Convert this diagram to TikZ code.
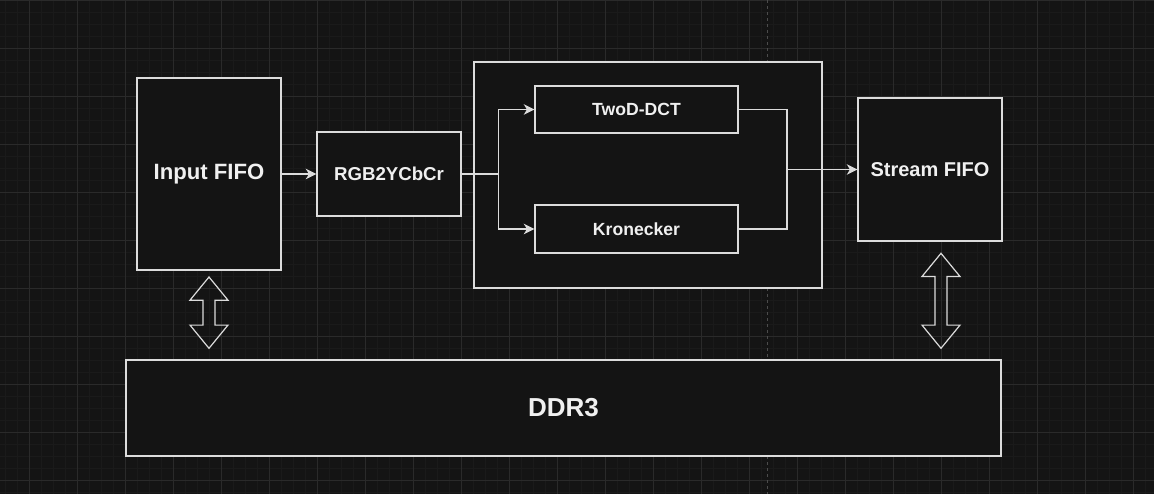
\documentclass[tikz,border=0pt]{standalone}
\usepackage{fontspec}
\setmainfont{Liberation Sans}
\usetikzlibrary{arrows.meta}

\definecolor{canvas}{HTML}{141414}
\definecolor{gridminor}{HTML}{1A1A1A}
\definecolor{gridmajor}{HTML}{2A2A2A}
\definecolor{pagebreak}{HTML}{4C4C4C}
\definecolor{edge}{HTML}{DCDCDC}
\definecolor{label}{HTML}{F0F0F0}

\tikzset{
  block/.style={draw=edge, fill=canvas, line width=0.9pt, inner sep=0pt,
    text=label, font=\bfseries, align=center},
  line/.style={draw=edge, line width=0.9pt},
  link/.style={line, -{Stealth[length=8pt, width=8pt, inset=2.4pt]}},
}

\begin{document}
\begin{tikzpicture}[x=0.75pt, y=-0.75pt]
    % Canvas and grid
    \fill[canvas] (0,0) rectangle (1154,494);
    \useasboundingbox (0,0) rectangle (1154,494);
    \foreach \i in {0,...,95}
        \draw[gridminor, line width=0.6pt] (5.3+12*\i,0) -- (5.3+12*\i,494);
    \foreach \i in {0,...,41}
        \draw[gridminor, line width=0.6pt] (0,0.3+12*\i) -- (1154,0.3+12*\i);
    \foreach \i in {0,...,23}
        \draw[gridmajor, line width=0.75pt] (29.3+48*\i,0) -- (29.3+48*\i,494);
    \foreach \i in {0,...,10}
        \draw[gridmajor, line width=0.75pt] (0,0.3+48*\i) -- (1154,0.3+48*\i);

    % Page break
    \draw[pagebreak, line width=0.75pt, dash pattern=on 2.25pt off 2.25pt] (767,0) -- (767,494);

    % Blocks
    \node[block, minimum width=108pt, minimum height=144pt, font=\bfseries\fontsize{16.6}{19}\selectfont]
        (fifoIn) at (209,174) {Input FIFO};
    \node[block, minimum width=108pt, minimum height=63pt, font=\bfseries\fontsize{14}{17}\selectfont]
        (rgb) at (389,174) {RGB2YCbCr};
    \node[block, minimum width=261pt, minimum height=169.5pt] (dctBlock) at (648,175) {};
    \node[block, minimum width=152.25pt, minimum height=35.25pt, font=\bfseries\fontsize{13.2}{16}\selectfont]
        (dct) at (636.5,109.5) {TwoD-DCT};
    \node[block, minimum width=152.25pt, minimum height=36pt, font=\bfseries\fontsize{13.2}{16}\selectfont]
        (kron) at (636.5,229) {Kronecker};
    \node[block, minimum width=108pt, minimum height=107.25pt, font=\bfseries\fontsize{15}{18}\selectfont]
        (fifoOut) at (930,169.5) {Stream FIFO};
    \node[block, minimum width=656.25pt, minimum height=72pt, font=\bfseries\fontsize{19.5}{23}\selectfont]
        (ddr) at (563.5,408) {DDR3};

    % Data path
    \draw[link] (fifoIn) -- (rgb);
    \draw[line] (rgb.east) -- ++(37,0) coordinate (split);
    \draw[link] (split) |- (dct.west);
    \draw[link] (split) |- (kron.west);
    \coordinate (join) at (787,169.5);
    \draw[line] (dct.east) -| (join);
    \draw[line] (kron.east) -| (join);
    \draw[link] (join) -- (fifoOut.west);

    % Memory access
    \foreach \cx/\ty/\by in {209/277/348.3, 941/253.3/348.3}
        \draw[line] (\cx,\ty) -- (\cx+19,\ty+23.2) -- (\cx+6,\ty+23.2) -- (\cx+6,\by-23.2)
            -- (\cx+19,\by-23.2) -- (\cx,\by) -- (\cx-19,\by-23.2) -- (\cx-6,\by-23.2)
            -- (\cx-6,\ty+23.2) -- (\cx-19,\ty+23.2) -- cycle;
\end{tikzpicture}
\end{document}
